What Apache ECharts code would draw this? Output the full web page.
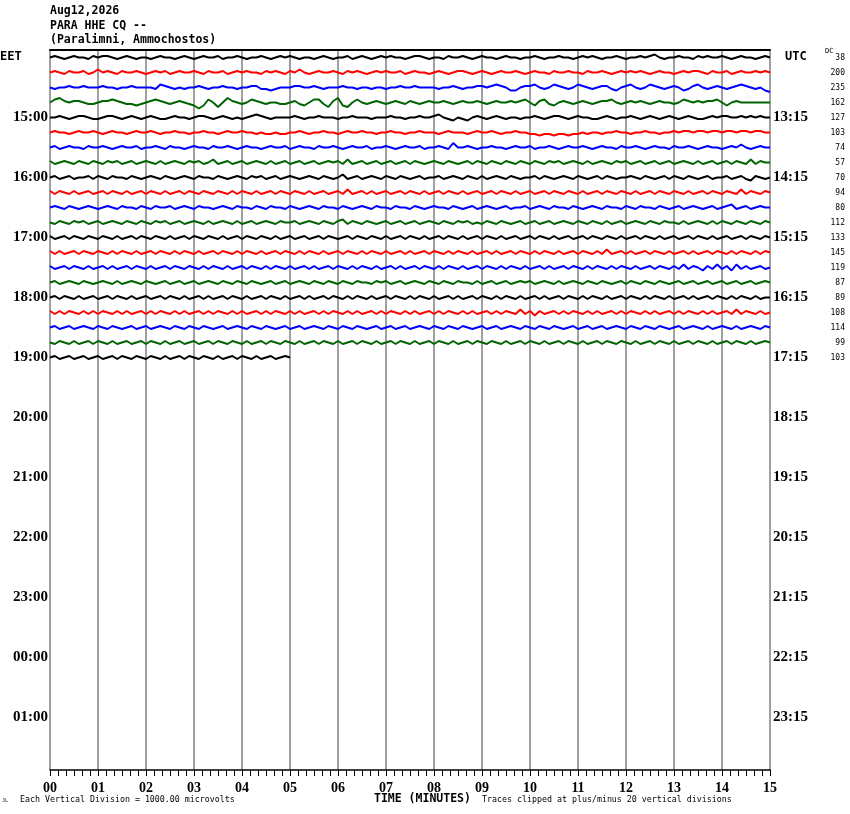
<!DOCTYPE html>
<html><head><meta charset="utf-8">
<script src="https://cdn.jsdelivr.net/npm/echarts@6/dist/echarts.min.js"></script>
<style>html,body{margin:0;padding:0;background:#fff}#c{width:850px;height:814px}</style>
</head><body><div id="c"></div>
<script>
// ---- labels ----
const minuteLabels = ['00','01','02','03','04','05','06','07','08','09','10','11','12','13','14','15'];
const eetHourLabels = ['15:00','16:00','17:00','18:00','19:00','20:00','21:00','22:00','23:00','00:00','01:00'];
const utcHourLabels = ['13:15','14:15','15:15','16:15','17:15','18:15','19:15','20:15','21:15','22:15','23:15'];
const dcValues = [38,200,235,162,127,103,74,57,70,94,80,112,133,145,119,87,89,108,114,99,103];
const traceColors = ['#000000','#ff0000','#0000ff','#006400'];
const samplesPerMinute = 10;   // one reading every 6 s
const unitsPerDivision = 10;   // readings in 100 microvolt units, 1 division = 1000 microvolts

// ---- trace readings (100 microvolt units, positive = up) ----
const tr00 = [0,1,0,-1,0,1,0,0,-1,1, 0,1,1,0,-1,0,1,0,-1,0, 0,-1,0,1,0,0,-1,0,1,0, -1,0,1,0,0,1,-1,0,0,1, 0,-1,0,0,1,0,-1,0,1,0, 1,0,-1,0,0,-1,0,1,0,-1, 0,0,1,-1,0,1,0,-1,0,1, 0,1,0,0,-1,0,1,1,0,-1, 0,0,-1,1,0,0,1,0,-1,0, 1,0,0,-1,0,1,0,0,-1,0, 0,1,0,-1,0,0,1,0,0,-1, 0,1,0,1,0,-1,0,0,1,0, -1,0,0,1,0,1,2,0,-1,0, 0,1,0,0,-1,1,0,1,0,0, 1,0,-1,0,1,0,0,-1,0,1, 0];
const tr01 = [0,1,0,-1,1,0,0,1,-1,0, 2,0,1,0,-1,1,0,0,1,0, -1,0,1,0,1,-1,0,1,0,0, 1,0,-1,1,0,0,1,-1,0,1, 0,1,0,0,-1,1,0,1,0,-1, 1,0,2,0,-1,0,1,0,0,1, 0,-1,1,0,1,0,-1,0,1,0, 1,0,0,1,-1,0,1,0,0,-1, 0,1,0,-1,0,1,1,0,-1,0, 1,0,-1,0,1,0,0,1,0,-1, 0,1,0,0,-1,1,0,0,1,0, 0,-1,1,0,0,1,0,-1,0,1, 0,1,0,1,0,-1,0,1,0,0, -1,0,1,0,1,1,0,-1,1,0, 0,1,-1,0,1,0,0,1,0,1, 0];
const tr02 = [0,-1,0,0,1,0,0,1,0,0, 0,1,0,0,-1,0,0,1,0,0, 0,0,-1,2,1,0,-1,0,-1,0, 0,1,0,-1,0,0,1,0,0,-1, 0,0,1,1,-1,-1,-2,-1,0,0, 0,1,1,0,0,1,0,-1,0,0, 0,1,0,0,-1,0,0,-1,0,0, -1,0,0,1,0,0,1,0,0,0, 0,-1,0,0,1,0,-1,0,0,1, 1,0,1,2,1,0,-2,-2,0,1, 1,2,0,-1,0,2,1,0,-1,0, 2,1,0,-1,0,1,1,-1,-2,0, 1,2,0,-1,0,2,1,0,-1,0, 1,0,-2,-1,1,2,0,-1,0,1, 0,-1,0,1,2,1,0,-1,0,-2, -3];
const tr03 = [0,2,3,1,0,1,1,0,-1,-1, 0,1,1,2,1,0,-1,-1,-2,-1, 0,1,2,1,0,-1,0,1,0,-1, -2,-4,-2,2,0,-3,0,3,1,0, -1,0,2,1,0,-1,0,0,-1,-1, 0,1,-1,-2,0,2,2,-1,-3,1, 3,-2,-3,0,2,0,-1,0,1,0, -1,0,1,0,-1,1,0,-1,0,1, 0,0,1,0,-1,0,1,0,0,1, 0,-1,0,1,0,0,1,0,1,2, 0,-2,1,2,-1,-2,0,1,0,-1, 0,1,0,-1,0,1,1,2,0,-1, 0,1,0,1,0,-1,0,1,0,0, -1,0,2,1,0,1,0,1,1,2, 0,-2,0,1,0,0,0,0,0,0, 0];
const tr04 = [0,0,1,0,-1,0,1,1,0,-1, -1,0,1,1,0,-1,0,1,0,-1, 0,1,0,-1,-1,0,1,0,0,-1, 0,1,1,0,-1,0,1,0,-1,0, -1,0,1,2,1,0,-1,0,0,0, 0,1,0,-1,0,0,1,0,0,0, -1,0,0,1,0,0,0,-1,0,0, 0,1,0,0,-1,0,0,1,0,0, 1,2,0,-1,-2,0,-1,-2,0,1, 0,-1,0,1,0,-1,0,0,-1,0, 0,1,0,-1,0,1,1,0,-1,0, 1,0,0,-1,-1,0,1,0,-1,0, 0,1,0,-1,0,1,0,-1,0,1, 0,-1,0,1,0,-1,-1,0,1,0, 1,1,0,0,1,0,1,0,1,0, 0];
const tr05 = [0,1,0,0,-1,0,1,0,0,1, 0,-1,0,1,0,0,-1,0,1,0, 0,1,0,-1,0,0,1,0,0,-1, 0,0,1,0,0,-1,0,1,0,0, 1,0,0,-1,0,-1,-1,0,-1,-1, 0,0,1,0,-1,0,0,1,0,0, -1,0,1,0,0,1,0,0,-1,0, 0,1,0,0,-1,0,0,1,0,0, 0,-1,0,1,0,0,0,-1,0,1, 0,0,1,0,-1,0,0,1,0,0, -1,-1,-2,-1,-1,-2,-1,-1,-2,-1, -1,0,-1,0,0,-1,0,0,1,0, 0,-1,0,0,1,0,0,-1,0,0, 1,0,1,1,0,1,1,0,1,1, 0,1,1,0,1,1,0,1,1,0, 0];
const tr06 = [0,1,-1,0,1,0,0,-1,1,0, 0,1,0,-1,0,1,0,0,1,-1, 0,0,1,0,-1,1,0,0,-1,0, 1,0,0,-1,1,0,0,1,0,-1, 0,1,0,0,-1,0,1,0,0,1, -1,0,1,0,0,-1,1,0,0,1, 0,-1,0,1,0,0,1,-1,0,0, 1,0,-1,0,1,0,0,1,-1,0, 0,1,0,-1,3,0,0,1,0,-1, 0,0,1,0,0,-1,0,1,0,0, 1,-1,0,0,1,0,-1,0,1,0, 0,1,0,-1,0,1,0,0,-1,1, 0,0,1,0,-1,0,1,0,0,-1, 1,0,0,1,0,-1,0,1,0,0, -1,0,1,0,2,0,-1,0,1,0, 0];
const tr07 = [1,-1,0,1,0,-1,1,0,-1,1, 0,-1,1,0,1,-1,0,1,-1,0, 1,0,-1,1,-1,0,1,0,-1,1, 0,1,-1,0,2,-1,0,1,-1,0, 1,-1,0,1,0,-1,1,-1,0,1, -1,0,1,-1,0,1,-1,0,1,0, 1,-1,2,-1,0,1,-1,0,1,-1, 0,1,-1,0,1,-1,1,0,-1,0, 1,0,-1,1,0,-1,0,1,-1,1, 0,-1,1,0,-1,1,0,-1,1,0, -1,1,0,-1,1,0,1,-1,0,1, 0,-1,1,-1,0,1,0,-1,1,0, 1,-1,0,1,-1,0,1,-1,0,1, -1,0,1,0,-1,1,-1,0,1,-1, 0,1,-1,1,0,-1,2,-1,1,0, 0];
const tr08 = [0,1,-1,0,1,-1,0,0,1,-1, 1,0,-1,1,0,0,-1,1,0,-1, 0,1,0,-1,1,0,-1,0,1,0, -1,1,0,0,-1,1,0,-1,0,1, 0,-1,1,0,1,-1,0,1,-1,0, 1,0,-1,0,1,0,-1,1,0,-1, 0,2,-1,0,1,-1,0,1,0,-1, 1,0,-1,1,0,-1,0,1,-1,0, 0,1,-1,0,1,0,-1,1,0,-1, 1,-1,0,1,0,-1,1,0,-1,0, 0,1,-1,1,0,-1,0,1,0,-1, 1,0,-1,0,1,-1,1,0,-1,0, 0,1,0,-1,1,0,-1,0,1,-1, 1,0,-1,1,0,-1,0,1,-1,0, 0,1,-1,0,1,-1,-2,1,0,-1, 0];
const tr09 = [1,-1,1,0,-1,1,-1,0,1,-1, 0,1,-1,1,0,-1,1,-1,0,1, -1,1,0,-1,1,-1,0,1,-1,1, 0,-1,1,0,-1,1,0,-1,1,-1, 1,0,-1,1,-1,0,1,-1,1,0, -1,1,0,-1,1,-1,0,1,-1,0, 1,-1,2,-1,0,1,-1,1,-1,0, 1,-1,0,1,-1,1,0,-1,1,-1, 0,1,-1,1,0,-1,1,-1,0,1, -1,0,1,-1,1,0,-1,1,-1,0, 1,-1,0,1,-1,1,0,-1,1,0, -1,1,-1,0,1,-1,1,0,-1,1, 0,-1,1,-1,0,1,-1,1,0,-1, 1,0,-1,1,-1,0,1,-1,1,0, -1,1,0,-1,2,-1,1,0,-1,1, 0];
const tr10 = [0,1,0,-1,1,0,-1,0,1,0, -1,0,1,0,-1,1,0,0,-1,1, 0,-1,1,0,0,1,-1,0,1,0, -1,1,0,0,-1,0,1,0,-1,1, 0,0,-1,1,0,-1,1,0,0,-1, 1,0,-1,0,1,0,-1,1,0,0, -1,1,0,-1,0,1,0,-1,1,0, 0,-1,1,0,0,-1,1,0,-1,0, 1,0,0,-1,1,0,-1,0,1,-1, 0,1,0,-1,0,1,-1,0,0,1, -1,0,1,0,-1,1,0,0,-1,1, 0,-1,0,1,0,-1,1,0,0,-1, 1,0,-1,1,0,0,-1,1,0,-1, 0,1,-1,0,1,0,-1,0,1,-1, 0,1,2,-1,0,1,-1,0,1,0, 0];
const tr11 = [0,-1,1,0,-1,1,0,1,-1,0, 1,-1,0,1,0,-1,1,0,-1,1, 0,-1,1,0,1,-1,0,1,-1,0, 1,0,-1,1,-1,0,1,0,-1,1, -1,0,1,-1,0,1,0,-1,1,0, 0,1,-1,0,1,0,-1,1,0,-1, 1,2,-1,1,0,-1,1,0,-1,0, 1,-1,0,1,-1,0,1,-1,0,1, 0,-1,1,0,-1,1,0,1,-1,0, -1,1,0,-1,1,0,-1,0,1,-1, 0,1,-1,0,1,-1,0,1,0,-1, 1,0,-1,1,0,-1,1,-1,0,1, -1,0,1,0,-1,1,0,-1,1,0, 0,-1,1,-1,0,1,0,-1,1,-1, 1,0,-1,1,0,-1,1,0,-1,1, 0];
const tr12 = [1,-1,0,1,-1,1,0,-1,1,0, -1,1,0,-1,1,-1,0,1,-1,1, 0,-1,1,0,-1,1,-1,0,1,-1, 1,0,-1,1,0,-1,1,-1,0,1, -1,1,0,-1,1,0,-1,1,-1,0, 1,-1,0,1,-1,0,1,-1,1,0, -1,0,1,-1,1,0,-1,1,0,-1, 1,-1,0,1,-1,1,0,-1,1,-1, 0,1,-1,1,0,-1,1,-1,0,1, -1,1,0,-1,1,-1,0,1,-1,0, 1,-1,1,0,-1,1,-1,0,1,-1, 0,1,-1,1,0,-1,1,0,-1,1, -1,0,1,-1,1,0,-1,1,-1,0, 1,-1,0,1,-1,1,0,-1,1,-1, 0,1,-1,0,1,-1,1,0,-1,1, 0];
const tr13 = [1,-1,1,-1,0,1,-1,1,0,-1, 1,0,-1,1,-1,1,0,-1,1,-1, 0,1,-1,1,0,-1,1,-1,1,0, -1,1,-1,0,1,-1,1,0,-1,1, -1,1,0,-1,1,-1,0,1,-1,1, 0,-1,1,-1,1,0,-1,1,-1,0, 1,-1,1,0,-1,1,-1,1,0,-1, 1,-1,0,1,-1,1,-1,0,1,-1, 1,0,-1,1,-1,1,0,-1,1,-1, 0,1,-1,1,-1,0,1,-1,1,0, -1,1,-1,1,0,-1,1,-1,0,1, -1,1,0,-1,1,-1,2,-1,0,1, -1,1,-1,0,1,-1,1,0,-1,1, -1,0,1,-1,1,-1,0,1,-1,1, 0,-1,1,-1,1,0,-1,1,-1,1, 0];
const tr14 = [1,-1,0,1,-1,1,0,-1,1,-1, 0,1,-1,1,-1,0,1,-1,1,0, -1,1,-1,0,1,-1,1,0,-1,1, 0,-1,1,-1,1,0,-1,1,-1,0, 1,-1,1,0,-1,1,-1,1,0,-1, 1,-1,0,1,-1,1,-1,0,1,-1, 1,0,-1,1,-1,1,0,-1,1,-1, 0,1,-1,1,-1,0,1,-1,1,0, -1,1,-1,1,0,-1,1,-1,0,1, -1,1,0,-1,1,-1,1,0,-1,1, -1,0,1,-1,1,-1,0,1,-1,1, 0,-1,1,-1,1,0,-1,1,-1,1, 0,-1,1,-1,0,1,-1,1,0,-1, 1,-1,2,-1,1,0,-2,1,-1,2, -1,1,-2,2,-1,1,-1,0,1,-1, 0];
const tr15 = [0,1,-1,0,1,0,-1,1,0,-1, 0,1,0,-1,1,-1,0,1,0,-1, 1,0,-1,0,1,-1,0,1,-1,0, 1,-1,0,1,0,-1,1,0,-1,1, 0,-1,1,0,-1,0,1,-1,0,1, -1,0,1,0,-1,1,0,-1,1,0, -1,1,0,-1,1,0,0,-1,1,0, 1,-1,0,1,-1,0,1,0,-1,1, 0,-1,1,0,-1,1,0,0,-1,1, -1,0,1,-1,0,1,-1,0,1,0, 1,-1,0,1,0,-1,1,-1,0,1, 0,-1,1,0,-1,1,0,-1,0,1, -1,1,0,-1,1,0,-1,1,0,-1, 0,1,-1,0,1,-1,0,1,-1,0, 1,-1,0,1,-1,0,1,-1,0,1, 0];
const tr16 = [0,1,-1,1,0,-1,1,-1,0,1, -1,0,1,-1,1,0,-1,1,-1,0, 1,-1,0,1,-1,1,0,-1,1,-1, 0,1,-1,1,-1,0,1,-1,1,0, -1,1,-1,0,1,-1,1,0,-1,1, -1,0,1,-1,1,-1,0,1,-1,1, 0,-1,1,-1,1,0,-1,1,-1,0, 1,-1,1,0,-1,1,-1,1,0,-1, 1,-1,0,1,-1,1,-1,0,1,-1, 1,0,-1,1,-1,1,0,-1,1,-1, 0,1,-1,1,-1,0,1,-1,1,0, -1,1,-1,1,0,-1,1,-1,0,1, -1,1,0,-1,1,-1,1,0,-1,1, -1,0,1,-1,1,-1,0,1,-1,1, 0,-1,1,-1,1,0,-1,1,-1,0, 0];
const tr17 = [1,-1,1,-1,1,0,-1,1,-1,1, -1,1,0,-1,1,-1,1,-1,0,1, -1,1,-1,1,0,-1,1,-1,1,-1, 0,1,-1,1,-1,1,0,-1,1,-1, 1,-1,0,1,-1,1,-1,1,0,-1, 1,-1,1,-1,0,1,-1,1,-1,1, 0,-1,1,-1,1,-1,0,1,-1,1, -1,1,0,-1,1,-1,1,-1,0,1, -1,1,-1,1,0,-1,1,-1,1,-1, 0,1,-1,1,-1,1,0,-1,2,-1, 1,-2,1,-1,0,1,-1,1,-1,1, 0,-1,1,-1,1,-1,0,1,-1,1, -1,1,0,-1,1,-1,1,-1,0,1, -1,1,-1,1,0,-1,1,-1,1,-1, 0,1,-1,2,-1,1,0,-1,1,-1, 0];
const tr18 = [0,1,-1,0,1,-1,0,1,0,-1, 1,0,-1,1,0,-1,0,1,-1,0, 1,-1,0,1,0,-1,1,0,-1,1, 0,-1,1,0,-1,0,1,-1,0,1, 0,-1,1,0,-1,1,0,-1,0,1, -1,0,1,-1,0,1,0,-1,1,0, -1,1,0,-1,1,0,-1,0,1,-1, 0,1,-1,0,1,-1,0,1,0,-1, 1,0,-1,1,0,-1,1,0,-1,0, 1,-1,0,1,-1,0,1,0,-1,1, 0,-1,1,0,-1,1,0,-1,0,1, -1,0,1,-1,0,1,-1,0,1,0, -1,1,0,-1,1,0,-1,1,0,-1, 0,1,-1,0,1,0,-1,1,-1,0, 1,0,-1,1,-1,0,1,0,-1,1, 0];
const tr19 = [0,-1,1,0,-1,1,-1,0,1,-1, 1,0,-1,1,-1,0,1,-1,0,1, -1,1,0,-1,1,-1,0,1,-1,0, 1,-1,0,1,-1,1,0,-1,1,0, -1,1,-1,0,1,-1,1,0,-1,1, 0,-1,1,-1,0,1,-1,1,0,-1, 1,-1,0,1,-1,1,0,-1,1,-1, 0,1,-1,1,0,-1,1,-1,0,1, -1,1,0,-1,1,-1,0,1,-1,1, 0,-1,1,0,-1,1,-1,0,1,-1, 1,0,-1,1,-1,0,1,-1,1,0, -1,1,-1,0,1,-1,1,0,-1,1, 0,-1,1,-1,0,1,-1,1,0,-1, 1,-1,0,1,-1,1,0,-1,1,-1, 0,1,-1,1,0,-1,1,-1,0,1, 0];
const tr20 = [0,1,-1,0,1,-1,0,1,-1,0, 1,-1,0,1,-1,1,0,-1,1,0, -1,1,0,-1,1,-1,0,1,-1,1, 0,-1,1,0,-1,1,-1,0,1,-1, 1,0,-1,1,-1,0,1,-1,0,1, 0];
const traces = [tr00,tr01,tr02,tr03,tr04,tr05,tr06,tr07,tr08,tr09,tr10,tr11,tr12,tr13,tr14,tr15,tr16,tr17,tr18,tr19,tr20];

const hourRows = eetHourLabels.map((_, j) => 4 * (j + 1));
const dcRows = dcValues.map((_, j) => j);

const series = traces.map((vals, row) => ({
  type: 'line',
  data: vals.map((v, i) => [i / samplesPerMinute, row - v / unitsPerDivision]),
  showSymbol: false, symbol: 'none', silent: true,
  lineStyle: { color: traceColors[row % 4], width: 2 },
  animation: false
}));

const chart = echarts.init(document.getElementById('c'), null, { renderer: 'canvas' });
const serifBold = { fontFamily: 'Liberation Serif', fontWeight: 'bold', color: '#000' };
const mono = 'DejaVu Sans Mono';
chart.setOption({
  animation: false,
  backgroundColor: '#fff',
  grid: { left: 50, right: 80, top: 50, bottom: 44 },
  xAxis: [{
    type: 'value', min: 0, max: 15, interval: 1, position: 'bottom',
    axisLine: { show: true, onZero: false, lineStyle: { color: '#000', width: 1.5 } },
    axisTick: { show: true, length: 6, lineStyle: { color: '#000', width: 1 } },
    minorTick: { show: true, splitNumber: 6, length: 6, lineStyle: { color: '#000', width: 1 } },
    splitLine: { show: true, lineStyle: { color: '#808080', width: 1.5 } },
    axisLabel: Object.assign({ fontSize: 14, margin: 11, formatter: v => minuteLabels[Math.round(v)] }, serifBold)
  }, {
    type: 'value', min: 0, max: 15, position: 'top',
    axisLine: { show: true, onZero: false, lineStyle: { color: '#000', width: 2 } },
    axisTick: { show: false }, axisLabel: { show: false }, splitLine: { show: false }
  }],
  yAxis: [{
    type: 'value', min: -0.5, max: 47.5, inverse: true, position: 'left',
    axisLine: { show: false, onZero: false }, axisTick: { show: false }, splitLine: { show: false },
    axisLabel: Object.assign({ fontSize: 15, margin: 2, customValues: hourRows,
      formatter: v => eetHourLabels[Math.round(v / 4) - 1] }, serifBold)
  }, {
    type: 'value', min: -0.5, max: 47.5, inverse: true, position: 'right',
    axisLine: { show: false, onZero: false }, axisTick: { show: false }, splitLine: { show: false },
    axisLabel: Object.assign({ fontSize: 15, margin: 3, customValues: hourRows,
      formatter: v => utcHourLabels[Math.round(v / 4) - 1] }, serifBold)
  }, {
    type: 'value', min: -0.5, max: 47.5, inverse: true, position: 'right',
    axisLine: { show: false, onZero: false }, axisTick: { show: false }, splitLine: { show: false },
    axisLabel: { fontSize: 8, fontFamily: mono, color: '#000', margin: 75, align: 'right',
      customValues: dcRows, formatter: v => String(dcValues[Math.round(v)]) }
  }],
  series: series,
  graphic: [
    { type: 'text', left: 50, top: 5, style: { text: 'Aug12,2026', font: 'bold 11.5px "DejaVu Sans Mono"', fill: '#000' } },
    { type: 'text', left: 50, top: 20, style: { text: 'PARA HHE CQ --', font: 'bold 11.5px "DejaVu Sans Mono"', fill: '#000' } },
    { type: 'text', left: 50, top: 34, style: { text: '(Paralimni, Ammochostos)', font: 'bold 11.5px "DejaVu Sans Mono"', fill: '#000' } },
    { type: 'text', left: 0, top: 51, style: { text: 'EET', font: 'bold 12px "DejaVu Sans Mono"', fill: '#000' } },
    { type: 'text', left: 785, top: 51, style: { text: 'UTC', font: 'bold 12px "DejaVu Sans Mono"', fill: '#000' } },
    { type: 'text', left: 825, top: 48, style: { text: 'DC', font: '7px "DejaVu Sans Mono"', fill: '#000' } },
    { type: 'text', left: 374, top: 793, style: { text: 'TIME (MINUTES)', font: 'bold 11.5px "DejaVu Sans Mono"', fill: '#000' } },
    { type: 'text', left: 20, top: 796, style: { text: 'Each Vertical Division = 1000.00 microvolts', font: '8.3px "DejaVu Sans Mono"', fill: '#000' } },
    { type: 'text', left: 482, top: 796, style: { text: 'Traces clipped at plus/minus 20 vertical divisions', font: '8.3px "DejaVu Sans Mono"', fill: '#000' } },
    { type: 'text', left: 2, top: 798, style: { text: 'JL', font: '5px "DejaVu Sans Mono"', fill: '#000' } }
  ]
});
</script>
</body></html>
